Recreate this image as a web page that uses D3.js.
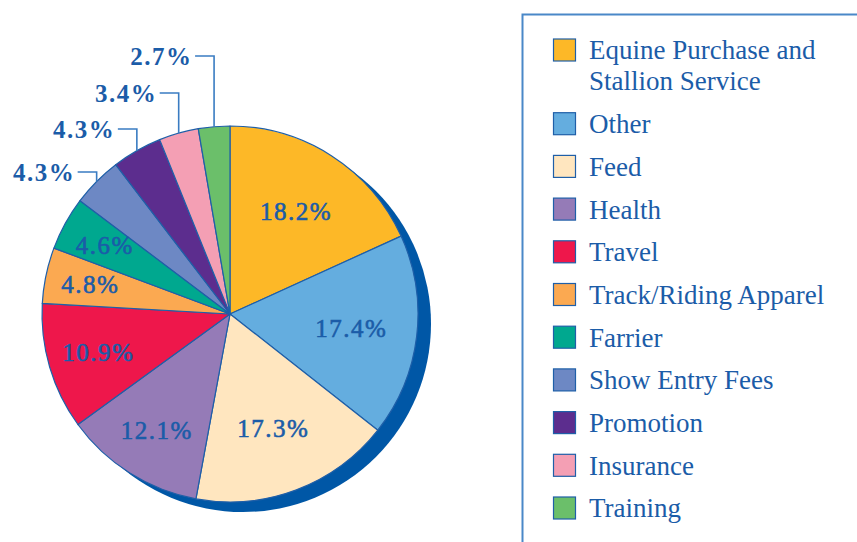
<!DOCTYPE html>
<html>
<head>
<meta charset="utf-8">
<script src="https://cdn.jsdelivr.net/npm/d3@7"></script>
<style>
  html, body { margin: 0; padding: 0; background: #fff; }
  svg text { font-family: "Liberation Serif", "DejaVu Serif", serif; }
</style>
</head>
<body>
<svg id="chart" width="857" height="542"></svg>
<script>
// Data
const categories = ["Equine Purchase and Stallion Service", "Other", "Feed", "Health", "Travel",
  "Track/Riding Apparel", "Farrier", "Show Entry Fees", "Promotion", "Insurance", "Training"];
const shares = [18.2, 17.4, 17.3, 12.1, 10.9, 4.8, 4.6, 4.3, 4.3, 3.4, 2.7];
const sliceColors = ["#fdb827", "#64addf", "#ffe6bf", "#957bb7", "#ee174b",
  "#fba951", "#00a88f", "#6d88c4", "#5c2d8e", "#f49fb4", "#6bbf6a"];
const legendLines = [["Equine Purchase and", "Stallion Service"], ["Other"], ["Feed"], ["Health"], ["Travel"],
  ["Track/Riding Apparel"], ["Farrier"], ["Show Entry Fees"], ["Promotion"], ["Insurance"], ["Training"]];
// slices labelled outside the pie, with the height of the leader line elbow
const outsideLabels = [
  { index: 7, elbowY: 172 },
  { index: 8, elbowY: 129 },
  { index: 9, elbowY: 93 },
  { index: 10, elbowY: 56 }
];

const ink = "#1b5ca8";
const cx = 230, cy = 314, radius = 188;

const svg = d3.select("#chart");
const data = categories.map((c, i) => ({ name: c, value: shares[i], color: sliceColors[i] }));

const pie = d3.pie().value(d => d.value).sort(null);
const arcs = pie(data);
const arc = d3.arc().innerRadius(0).outerRadius(radius);

// shadow disc behind the pie
svg.append("circle")
  .attr("cx", cx + 13)
  .attr("cy", cy + 10)
  .attr("r", radius)
  .attr("fill", "#0057a6");

const chart = svg.append("g").attr("transform", "translate(" + cx + "," + cy + ")");

chart.selectAll("path.slice")
  .data(arcs)
  .enter().append("path")
  .attr("class", "slice")
  .attr("d", arc)
  .attr("fill", d => d.data.color)
  .attr("stroke", "#1f5fa8")
  .attr("stroke-width", 1.2)
  .attr("stroke-linejoin", "round");

// Inside labels: bigger slices get their label a bit closer to the centre
function labelRadius(v) {
  if (v > 15) return radius * 0.65;
  if (v > 10) return radius * 0.73;
  return radius * 0.76;
}

const outsideIdx = outsideLabels.map(o => o.index);
chart.selectAll("text.inside")
  .data(arcs.filter(d => outsideIdx.indexOf(d.index) < 0))
  .enter().append("text")
  .attr("class", "inside")
  .attr("transform", d => {
    let r = labelRadius(d.data.value);
    let a = (d.startAngle + d.endAngle) / 2;
    return "translate(" + (r * Math.sin(a)) + "," + (-r * Math.cos(a)) + ")";
  })
  .attr("text-anchor", "middle")
  .attr("dy", "0.35em")
  .attr("fill", ink)
  .attr("stroke", ink)
  .attr("stroke-width", 0.6)
  .style("font-size", "25px")
  .style("letter-spacing", "1.5px")
  .text(d => d.data.value.toFixed(1) + "%");

// Outside labels with leader lines
outsideLabels.forEach(o => {
  let d = arcs[o.index];
  let a = (d.startAngle + d.endAngle) / 2;
  let px = radius * Math.sin(a);
  let py = -radius * Math.cos(a);
  let ey = o.elbowY - cy;
  chart.append("polyline")
    .attr("points", [[px - 19, ey], [px, ey], [px, py]].map(p => p.join(",")).join(" "))
    .attr("fill", "none")
    .attr("stroke", "#3a7cc2")
    .attr("stroke-width", 1.6);
  chart.append("text")
    .attr("x", px - 21.5)
    .attr("y", ey)
    .attr("dy", "0.35em")
    .attr("text-anchor", "end")
    .attr("fill", ink)
    .style("font-size", "25px")
    .style("font-weight", "bold")
    .style("letter-spacing", "1.5px")
    .text(d.data.value.toFixed(1) + "%");
});

// Legend
const legend = svg.append("g").attr("class", "legend");
legend.append("rect")
  .attr("x", 522.5)
  .attr("y", 14.5)
  .attr("width", 500)
  .attr("height", 600)
  .attr("fill", "none")
  .attr("stroke", "#4a88c8")
  .attr("stroke-width", 2);

const rowStep = 42.7, lineStep = 31;
const items = legend.selectAll("g.item")
  .data(data)
  .enter().append("g")
  .attr("class", "item")
  .attr("transform", (d, i) => "translate(553," + (50 + i * rowStep + (i > 0 ? lineStep : 0)) + ")");

items.append("rect")
  .attr("x", 0.5)
  .attr("y", -11)
  .attr("width", 22)
  .attr("height", 22)
  .attr("fill", d => d.color)
  .attr("stroke", "#1f5fa8")
  .attr("stroke-width", 1.2);

items.append("text")
  .attr("x", 36)
  .attr("fill", ink)
  .style("font-size", "27px")
  .selectAll("tspan")
  .data((d, i) => legendLines[i])
  .enter().append("tspan")
  .attr("x", 36)
  .attr("y", (t, j) => j * lineStep)
  .attr("dy", "0.35em")
  .text(t => t);
</script>
</body>
</html>
